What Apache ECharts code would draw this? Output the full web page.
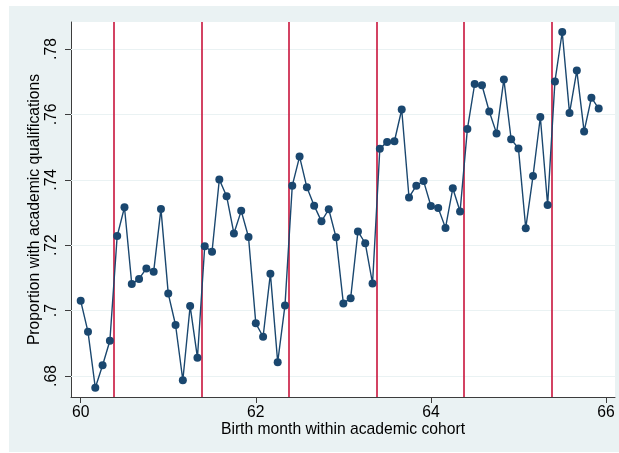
<!DOCTYPE html>
<html>
<head>
<meta charset="utf-8">
<script src="https://cdn.jsdelivr.net/npm/echarts@6/dist/echarts.min.js"></script>
<style>
  html, body { margin: 0; padding: 0; background: #ffffff; }
  #chart { width: 619px; height: 453px; }
</style>
</head>
<body>
<div id="chart"></div>
<script>
// Proportion with academic qualifications, by birth month (12 months per cohort year)
const cohortStart = 60;
const monthsPerYear = 12;
const year60 = [0.7030, 0.6935, 0.6764, 0.6833, 0.6908, 0.7228, 0.7316, 0.7081, 0.7097, 0.7129, 0.7119, 0.7311];
const year61 = [0.7052, 0.6956, 0.6787, 0.7014, 0.6856, 0.7197, 0.7180, 0.7401, 0.7350, 0.7236, 0.7305, 0.7225];
const year62 = [0.6961, 0.6920, 0.7113, 0.6842, 0.7016, 0.7382, 0.7471, 0.7377, 0.7321, 0.7273, 0.7310, 0.7224];
const year63 = [0.7022, 0.7038, 0.7242, 0.7206, 0.7083, 0.7495, 0.7516, 0.7518, 0.7615, 0.7346, 0.7382, 0.7396];
const year64 = [0.7320, 0.7314, 0.7253, 0.7374, 0.7303, 0.7555, 0.7693, 0.7689, 0.7609, 0.7542, 0.7707, 0.7524];
const year65 = [0.7496, 0.7252, 0.7412, 0.7592, 0.7323, 0.7701, 0.7852, 0.7604, 0.7734, 0.7548, 0.7651, 0.7618];

// Vertical reference lines between cohort intakes
const cutoffs = [60.375, 61.375, 62.375, 63.375, 64.375, 65.375];

// Axis ticks and their labels
const xTicks = [60, 62, 64, 66];
const xTickLabels = ['60', '62', '64', '66'];
const yTicks = [0.68, 0.70, 0.72, 0.74, 0.76, 0.78];
const yTickLabels = ['.68', '.7', '.72', '.74', '.76', '.78'];

const values = [].concat(year60, year61, year62, year63, year64, year65);
const points = values.map((v, i) => [cohortStart + i / monthsPerYear, v]);

function tickLabel(ticks, labels) {
  return function (v) {
    const i = ticks.findIndex(t => Math.abs(t - v) < 1e-9);
    return i >= 0 ? labels[i] : '';
  };
}

const FONT = '"Liberation Sans", Arial, sans-serif';
const FS = 15.7;
const NAVY = '#1a476f';
const AXIS = '#3c3c3c';
const BG = '#eaf2f3';

const chart = echarts.init(document.getElementById('chart'), null, { renderer: 'canvas' });
chart.setOption({
  backgroundColor: '#ffffff',
  animation: false,
  textStyle: { fontFamily: FONT },
  graphic: [{
    type: 'rect', z: -10, silent: true,
    shape: { x: 9, y: 6, width: 610, height: 446 },
    style: { fill: BG }
  }],
  grid: {
    left: 71, right: 4, top: 22, bottom: 56,
    show: true, backgroundColor: '#ffffff', borderWidth: 0
  },
  xAxis: {
    type: 'value',
    min: 59.8892, max: 66.1028,
    name: 'Birth month within academic cohort',
    nameLocation: 'middle', nameGap: 25, nameMoveOverlap: false,
    nameTextStyle: { fontSize: FS, color: '#000', fontFamily: FONT },
    axisLine: { show: true, onZero: false, lineStyle: { color: AXIS, width: 1 } },
    axisTick: { show: true, length: 6, customValues: xTicks, lineStyle: { color: AXIS } },
    axisLabel: {
      customValues: xTicks, margin: 8, fontSize: FS, color: '#000', fontFamily: FONT,
      formatter: tickLabel(xTicks, xTickLabels)
    },
    splitLine: { show: false }
  },
  yAxis: {
    type: 'value',
    min: 0.67358, max: 0.78826,
    name: 'Proportion with academic qualifications',
    nameLocation: 'middle', nameGap: 28, nameRotate: 90, nameMoveOverlap: false,
    nameTextStyle: { fontSize: FS, color: '#000', fontFamily: FONT },
    axisLine: { show: true, onZero: false, lineStyle: { color: AXIS, width: 1 } },
    axisTick: { show: true, length: 6, customValues: yTicks, lineStyle: { color: AXIS } },
    axisLabel: {
      customValues: yTicks, rotate: 90, margin: 11, fontSize: FS, color: '#000', fontFamily: FONT,
      formatter: tickLabel(yTicks, yTickLabels)
    },
    splitLine: { show: false }
  },
  series: [
    {
      // horizontal grid lines at the y ticks
      type: 'line', data: [], z: 1, silent: true,
      markLine: {
        silent: true, symbol: ['none', 'none'], label: { show: false },
        lineStyle: { color: BG, width: 1, type: 'solid' },
        data: yTicks.map(v => ({ yAxis: v }))
      }
    },
    {
      type: 'line', data: [], z: 2, silent: true,
      markLine: {
        silent: true, symbol: ['none', 'none'], label: { show: false },
        lineStyle: { color: '#c8143c', width: 1.6, type: 'solid' },
        data: cutoffs.map(v => ({ xAxis: v }))
      }
    },
    {
      type: 'line', z: 10,
      data: points,
      symbol: 'circle', symbolSize: 8,
      lineStyle: { color: NAVY, width: 1.4 },
      itemStyle: { color: NAVY },
      showSymbol: true
    }
  ]
});
</script>
</body>
</html>
